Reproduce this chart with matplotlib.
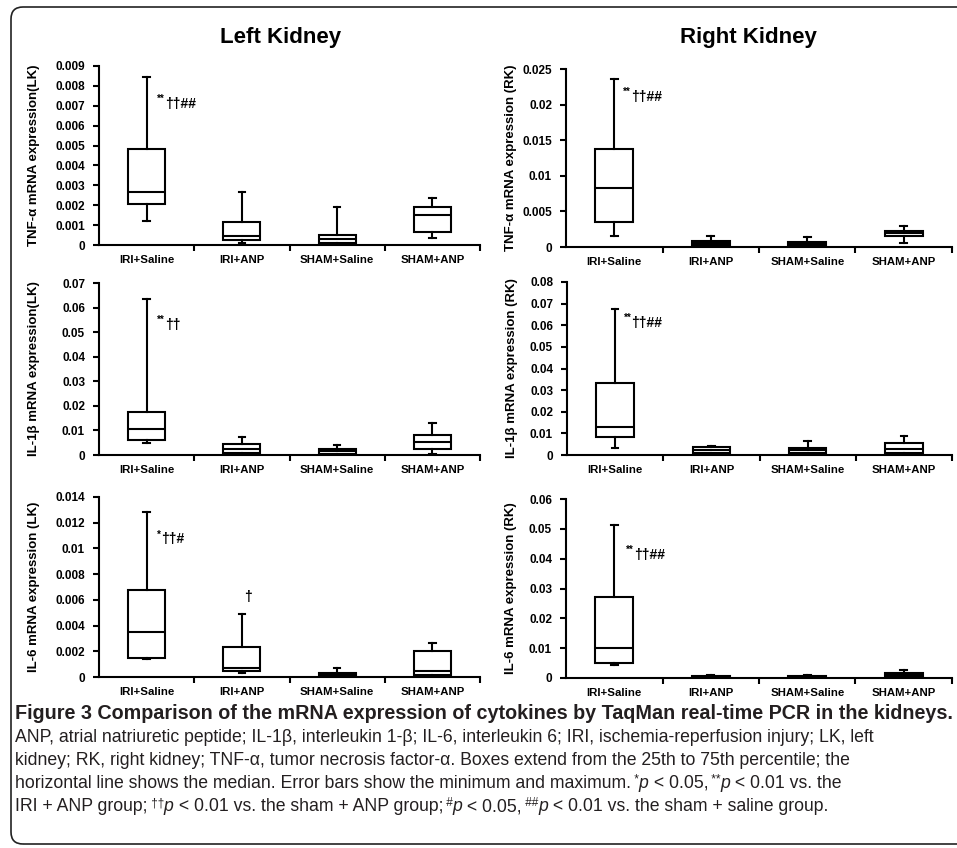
import matplotlib
matplotlib.use("Agg")
import matplotlib.pyplot as plt
from matplotlib.patches import FancyBboxPatch
from matplotlib.ticker import MultipleLocator, FuncFormatter

W, H = 957, 848

GROUPS = ["IRI+Saline", "IRI+ANP", "SHAM+Saline", "SHAM+ANP"]

# five-number summaries per group: min, q1, median, q3, max
TNF_LK = [
    [0.0012, 0.00205, 0.00265, 0.00485, 0.00845],
    [0.0001, 0.00025, 0.00043, 0.00118, 0.00265],
    [0.00005, 0.00009, 0.00029, 0.0005, 0.0019],
    [0.00037, 0.00063, 0.00153, 0.0019, 0.00237],
]
TNF_RK = [
    [0.0016, 0.0035, 0.0083, 0.0137, 0.0236],
    [0.0001, 0.00028, 0.0006, 0.00088, 0.0015],
    [0.0001, 0.00028, 0.0005, 0.00075, 0.00136],
    [0.00052, 0.00155, 0.0019, 0.0023, 0.0029],
]
IL1B_LK = [
    [0.0049, 0.0062, 0.0107, 0.0175, 0.0636],
    [0.0003, 0.0008, 0.0026, 0.0043, 0.0073],
    [0.0002, 0.0005, 0.0015, 0.0026, 0.0039],
    [0.0003, 0.0024, 0.0053, 0.0083, 0.013],
]
IL1B_RK = [
    [0.0031, 0.0085, 0.0128, 0.0332, 0.0675],
    [0.0005, 0.0011, 0.0025, 0.0038, 0.0043],
    [0.0004, 0.0011, 0.0022, 0.0034, 0.0065],
    [0.0004, 0.0008, 0.0026, 0.0054, 0.0089],
]
IL6_LK = [
    [0.00137, 0.0015, 0.0035, 0.0068, 0.0128],
    [0.00035, 0.00047, 0.00068, 0.0023, 0.0049],
    [0.00003, 0.0001, 0.0002, 0.00035, 0.00067],
    [0.00003, 0.00012, 0.00044, 0.002, 0.00267],
]
IL6_RK = [
    [0.0042, 0.0049, 0.0099, 0.0272, 0.0512],
    [0.0001, 0.0002, 0.0005, 0.0008, 0.0011],
    [0.0001, 0.0002, 0.0005, 0.0008, 0.001],
    [0.0002, 0.0004, 0.001, 0.0016, 0.0027],
]

YLABELS = [
    "TNF-\u03b1 mRNA expression(LK)", "TNF-\u03b1 mRNA expression (RK)",
    "IL-1\u03b2 mRNA expression(LK)", "IL-1\u03b2 mRNA expression (RK)",
    "IL-6 mRNA expression (LK)", "IL-6 mRNA expression (RK)",
]
YMAX = [0.009, 0.025, 0.07, 0.08, 0.014, 0.06]
YSTEP = [0.001, 0.005, 0.01, 0.01, 0.002, 0.01]

# significance marks: (x in group units, y, stars, rest)
MARKS = [
    [(1.11, 0.0071, "**", "\u2020\u2020##")],
    [(1.09, 0.0211, "**", "\u2020\u2020##")],
    [(1.11, 0.0528, "**", "\u2020\u2020")],
    [(1.09, 0.0610, "**", "\u2020\u2020##")],
    [(1.11, 0.0107, "*", "\u2020\u2020#"), (2.06, 0.0062, "", "\u2020")],
    [(1.12, 0.0412, "**", "\u2020\u2020##")],
]

# axes frames in pixels: left, top, right, bottom
FRAMES = [
    (99, 66, 480, 245), (566, 69, 952, 247),
    (99, 283, 480, 455), (567, 282, 952, 455),
    (99, 497, 480, 677), (566, 499, 952, 678),
]

CAP_FONT = "Liberation Sans"
CAP_COLOR = "#231f20"
CAPTION = [
    [("Figure 3 Comparison of the mRNA expression of cytokines by TaqMan real-time PCR in the kidneys.", "b")],
    [("ANP, atrial natriuretic peptide; IL-1\u03b2, interleukin 1-\u03b2; IL-6, interleukin 6; IRI, ischemia-reperfusion injury; LK, left", "n")],
    [("kidney; RK, right kidney; TNF-\u03b1, tumor necrosis factor-\u03b1. Boxes extend from the 25th to 75th percentile; the", "n")],
    [("horizontal line shows the median. Error bars show the minimum and maximum.", "n"), (" *", "s"), ("p", "i"),
     (" < 0.05,", "n"), (" **", "s"), ("p", "i"), (" < 0.01 vs. the", "n")],
    [("IRI + ANP group;", "n"), (" \u2020\u2020", "s"), ("p", "i"), (" < 0.01 vs. the sham + ANP group;", "n"),
     (" #", "s"), ("p", "i"), (" < 0.05,", "n"), (" ##", "s"), ("p", "i"),
     (" < 0.01 vs. the sham + saline group.", "n")],
]
CAP_BASELINES = [719, 742, 765, 788, 811]
CAP_SIZES = {"b": 14.2, "n": 12.7, "i": 12.7, "s": 8.5}


def add_mark(ax, x, y, stars, rest):
    if stars:
        t = ax.text(x, y, stars, fontsize=7, ha="left", va="bottom")
        ax.annotate(rest, xy=(1, 0), xycoords=t, fontsize=10, ha="left", va="center")
    else:
        ax.text(x, y, rest, fontsize=10, ha="center", va="center")


def draw_panel(ax, stats, ylabel, ymax, ystep, marks, label_off):
    lw = 1.5
    bstats = [dict(whislo=s[0], q1=s[1], med=s[2], q3=s[3], whishi=s[4], fliers=[]) for s in stats]
    ax.bxp(bstats, positions=range(1, 5), widths=0.39, capwidths=0.07, patch_artist=True,
           showfliers=False,
           boxprops=dict(facecolor="white", edgecolor="black", linewidth=lw),
           medianprops=dict(color="black", linewidth=lw),
           whiskerprops=dict(color="black", linewidth=lw),
           capprops=dict(color="black", linewidth=lw))
    ax.set_xlim(0.5, 4.5)
    ax.set_ylim(0, ymax)
    ax.spines[["top", "right"]].set_visible(False)
    ax.spines[["left", "bottom"]].set_linewidth(1.5)
    ax.set_xticks(range(1, 5), GROUPS)
    ax.set_xticks([1.5, 2.5, 3.5, 4.5], minor=True)
    ax.tick_params(axis="x", which="major", length=0, pad=7, labelsize=8.2)
    ax.tick_params(axis="x", which="minor", length=4, width=1.5)
    ax.yaxis.set_major_locator(MultipleLocator(ystep))
    ax.yaxis.set_major_formatter(FuncFormatter(lambda v, _: f"{v:g}"))
    ax.tick_params(axis="y", length=4, width=1.5, pad=6, labelsize=8.5)
    ax.set_ylabel(ylabel, fontsize=9.5)
    ax.yaxis.set_label_coords(label_off, 0.5)
    for x, y, stars, rest in marks:
        add_mark(ax, x, y, stars, rest)


def caption_line(fig, x_px, y_px, parts):
    renderer = fig.canvas.get_renderer()
    for text, kind in parts:
        rise = 5 if kind == "s" else 0
        t = fig.text(x_px / W, 1 - (y_px - rise) / H, text, fontsize=CAP_SIZES[kind],
                     family=CAP_FONT, color=CAP_COLOR, va="baseline", ha="left",
                     weight="bold" if kind == "b" else "normal",
                     style="italic" if kind == "i" else "normal")
        x_px += t.get_window_extent(renderer).width


def main():
    plt.rcParams["font.family"] = ["Liberation Sans", "DejaVu Sans"]
    plt.rcParams["font.weight"] = "bold"
    plt.rcParams["axes.labelweight"] = "bold"

    fig = plt.figure(figsize=(W / 100, H / 100), dpi=100)
    fig.add_artist(FancyBboxPatch((0.11, 0.04), 9.8, 8.37, boxstyle="round,pad=0,rounding_size=0.12",
                                  transform=fig.dpi_scale_trans, facecolor="none",
                                  edgecolor="#222222", linewidth=1.2))

    datasets = [TNF_LK, TNF_RK, IL1B_LK, IL1B_RK, IL6_LK, IL6_RK]
    for i, stats in enumerate(datasets):
        l, t, r, b = FRAMES[i]
        ax = fig.add_axes([l / W, 1 - b / H, (r - l) / W, (b - t) / H])
        off = -0.155 if i % 2 == 0 else -0.127
        draw_panel(ax, stats, YLABELS[i], YMAX[i], YSTEP[i], MARKS[i], off)

    fig.text(281 / W, 1 - 37 / H, "Left Kidney", fontsize=16, ha="center", va="center")
    fig.text(748 / W, 1 - 37 / H, "Right Kidney", fontsize=16, ha="center", va="center")

    for parts, base in zip(CAPTION, CAP_BASELINES):
        caption_line(fig, 15, base, parts)

    fig.savefig("out.png", dpi=100)


if __name__ == "__main__":
    main()
